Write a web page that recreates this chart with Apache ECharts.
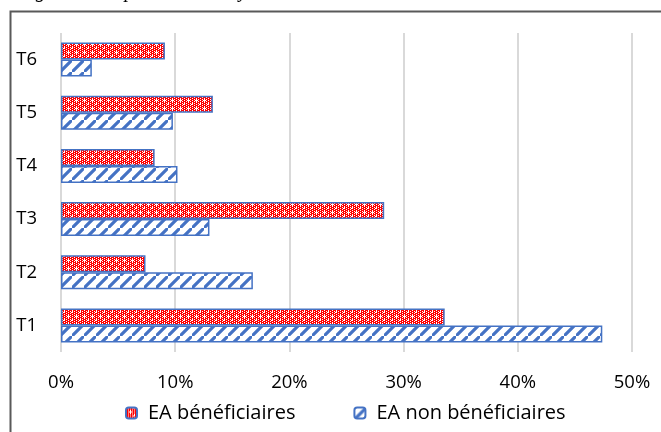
<!DOCTYPE html>
<html>
<head>
<meta charset="utf-8">
<script src="https://cdn.jsdelivr.net/npm/echarts@6/dist/echarts.min.js"></script>
<style>
  html, body { margin: 0; padding: 0; background: #fff; }
  #chart { width: 661px; height: 432px; }
</style>
</head>
<body>
<div id="chart"></div>
<script>
// Categories, bottom to top
const categories = ['T1', 'T2', 'T3', 'T4', 'T5', 'T6'];
// Shares of farms (fraction) per type
const beneficiaires = [0.336, 0.074, 0.283, 0.082, 0.133, 0.091];
const nonBeneficiaires = [0.474, 0.168, 0.130, 0.102, 0.098, 0.027];
const seriesNames = ['EA bénéficiaires', 'EA non bénéficiaires'];
const xTicks = [0, 0.1, 0.2, 0.3, 0.4, 0.5];
const titleText = 'Figure 3 : Répartition des systèmes de culture';

// Red confetti fill
function confettiPattern() {
  const c = document.createElement('canvas');
  c.width = 8; c.height = 8;
  const g = c.getContext('2d');
  g.fillStyle = '#ff0000';
  g.fillRect(0, 0, 8, 8);
  g.fillStyle = '#ffffff';
  for (let y = 0; y < 8; y++) {
    for (let x = 0; x < 8; x++) {
      if ((y % 2 === 0 && x % 4 === 0) || (y % 2 === 1 && x % 4 === 2)) g.fillRect(x, y, 1, 1);
    }
  }
  g.fillRect(4, 3, 1, 3); g.fillRect(3, 4, 3, 1);
  g.fillRect(0, 7, 1, 2); g.fillRect(7, 0, 2, 1); g.fillRect(0, 0, 1, 1);
  return c;
}

// Blue wide upward diagonal fill
function hatchPattern() {
  const s = 12;
  const c = document.createElement('canvas');
  c.width = s; c.height = s;
  const g = c.getContext('2d');
  g.fillStyle = '#ffffff';
  g.fillRect(0, 0, s, s);
  g.strokeStyle = '#4472c4';
  g.lineWidth = 3.2;
  g.beginPath();
  g.moveTo(-s, s * 2); g.lineTo(s * 2, -s);
  g.moveTo(-s * 2, s); g.lineTo(s, -s * 2);
  g.moveTo(0, s * 3); g.lineTo(s * 3, 0);
  g.stroke();
  return c;
}

const chart = echarts.init(document.getElementById('chart'), null, { renderer: 'canvas' });
const font = '"Open Sans", Lato, sans-serif';

chart.setOption({
  animation: false,
  textStyle: { fontFamily: font },
  grid: { left: 61, right: 29, top: 33, bottom: 80, containLabel: false, outerBoundsMode: 'none' },
  xAxis: {
    type: 'value',
    min: xTicks[0],
    max: xTicks[xTicks.length - 1],
    interval: 0.1,
    axisLine: { show: false },
    axisTick: { show: false },
    splitLine: { show: true, lineStyle: { color: '#d9d9d9', width: 2 } },
    axisLabel: {
      color: '#000',
      fontSize: 18.5,
      fontFamily: font,
      margin: 21,
      formatter: v => Math.round(v * 100) + '%'
    }
  },
  yAxis: {
    type: 'category',
    data: categories,
    axisLine: { show: false },
    axisTick: { show: false },
    axisLabel: { color: '#000', fontSize: 18.5, fontFamily: font, margin: 24 }
  },
  legend: {
    data: seriesNames,
    top: 403,
    left: 125,
    padding: 0,
    itemWidth: 11,
    itemHeight: 11,
    itemGap: 58,
    textStyle: { color: '#000', fontSize: 20, fontFamily: font, padding: [0, 0, 0, 6] }
  },
  graphic: [
    {
      type: 'rect',
      shape: { x: 10.5, y: 11.5, width: 800, height: 600 },
      style: { fill: 'none', stroke: '#595959', lineWidth: 2 },
      silent: true
    },
    {
      type: 'text',
      x: 18,
      y: -8,
      style: { text: titleText, font: 'italic 20px "Liberation Serif", serif', fill: '#000', verticalAlign: 'middle' },
      silent: true
    }
  ],
  series: [
    {
      name: seriesNames[0],
      type: 'bar',
      data: beneficiaires,
      barGap: '0%',
      barCategoryGap: '36%',
      itemStyle: {
        color: { image: confettiPattern(), repeat: 'repeat' },
        borderColor: '#4472c4',
        borderWidth: 1.5
      }
    },
    {
      name: seriesNames[1],
      type: 'bar',
      data: nonBeneficiaires,
      barGap: '0%',
      barCategoryGap: '36%',
      itemStyle: {
        color: { image: hatchPattern(), repeat: 'repeat' },
        borderColor: '#4472c4',
        borderWidth: 1.5
      }
    }
  ]
});
</script>
</body>
</html>
